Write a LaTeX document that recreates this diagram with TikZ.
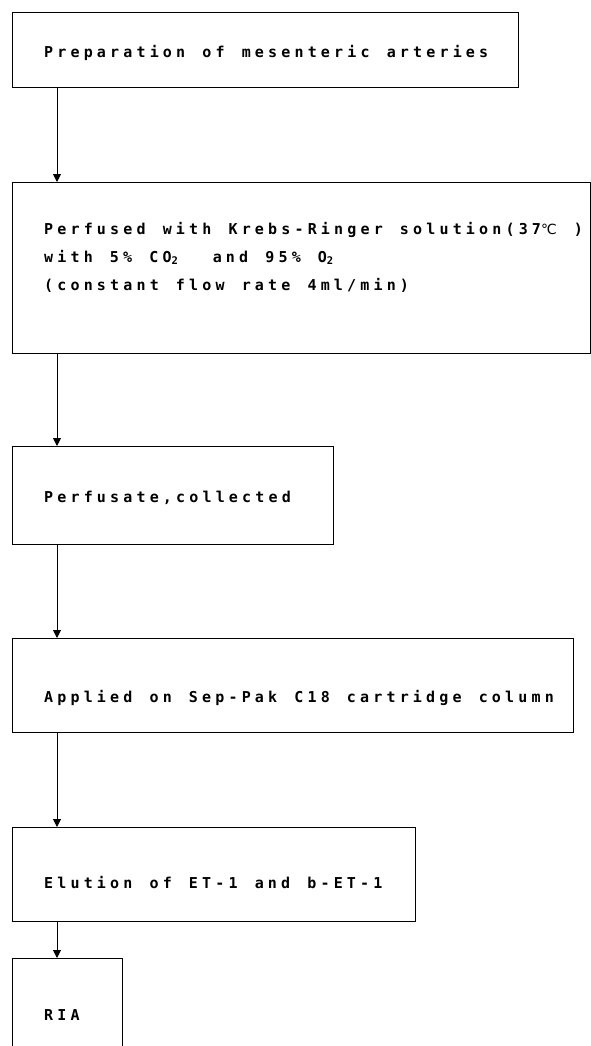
\documentclass[tikz,border=0pt]{standalone}
\usepackage{fontspec}
\newfontfamily\monoA[LetterSpace=27.8,WordSpace=1.3]{DejaVu Sans Mono Bold}
\newfontfamily\symA{DejaVu Sans}
\usetikzlibrary{arrows.meta}
\begin{document}
\begin{tikzpicture}[x=1pt,y=-1pt,
  box/.style={draw, line width=1.2pt, rectangle, inner sep=0pt, anchor=north west},
  txt/.style={anchor=base west, inner sep=0pt, font=\monoA\fontsize{15}{17}\selectfont},
  arr/.style={line width=1pt, -{Triangle[length=8pt,width=8pt]}}]
\useasboundingbox (0,0) rectangle (591,1046);
\clip (0,0) rectangle (591,1046);
% boxes
\node[box, minimum width=506pt, minimum height=75pt]  (b1) at (12,12)  {};
\node[box, minimum width=578pt, minimum height=171pt] (b2) at (12,182) {};
\node[box, minimum width=321pt, minimum height=98pt]  (b3) at (12,446) {};
\node[box, minimum width=561pt, minimum height=94pt]  (b4) at (12,638) {};
\node[box, minimum width=403pt, minimum height=94pt]  (b5) at (12,827) {};
\node[box, minimum width=110pt, minimum height=120pt] (b6) at (12,958) {};
% texts
\node[txt] (t1)  at (44,58)   {Preparation of mesenteric arteries};
\node[txt] (t2a) at (44,234)  {Perfused with Krebs-Ringer solution(37{\symA\fontsize{14}{16}\selectfont ℃} )};
\node[txt] (t2b) at (44,262)  {with 5\% CO\textsubscript{2}\ \ and 95\% O\textsubscript{2}};
\node[txt] (t2c) at (44,290)  {(constant flow rate 4ml/min)};
\node[txt] (t3)  at (44,502)  {Perfusate,collected};
\node[txt] (t4)  at (44,702)  {Applied on Sep-Pak C18 cartridge column};
\node[txt] (t5)  at (44,888)  {Elution of ET-1 and b-ET-1};
\node[txt] (t6)  at (44,1020) {RIA};
% connectors
\draw[arr] ([xshift=45pt]b1.south west) -- ([xshift=45pt]b2.north west);
\draw[arr] ([xshift=45pt]b2.south west) -- ([xshift=45pt]b3.north west);
\draw[arr] ([xshift=45pt]b3.south west) -- ([xshift=45pt]b4.north west);
\draw[arr] ([xshift=45pt]b4.south west) -- ([xshift=45pt]b5.north west);
\draw[arr] ([xshift=45pt]b5.south west) -- ([xshift=45pt]b6.north west);
\end{tikzpicture}
\end{document}
